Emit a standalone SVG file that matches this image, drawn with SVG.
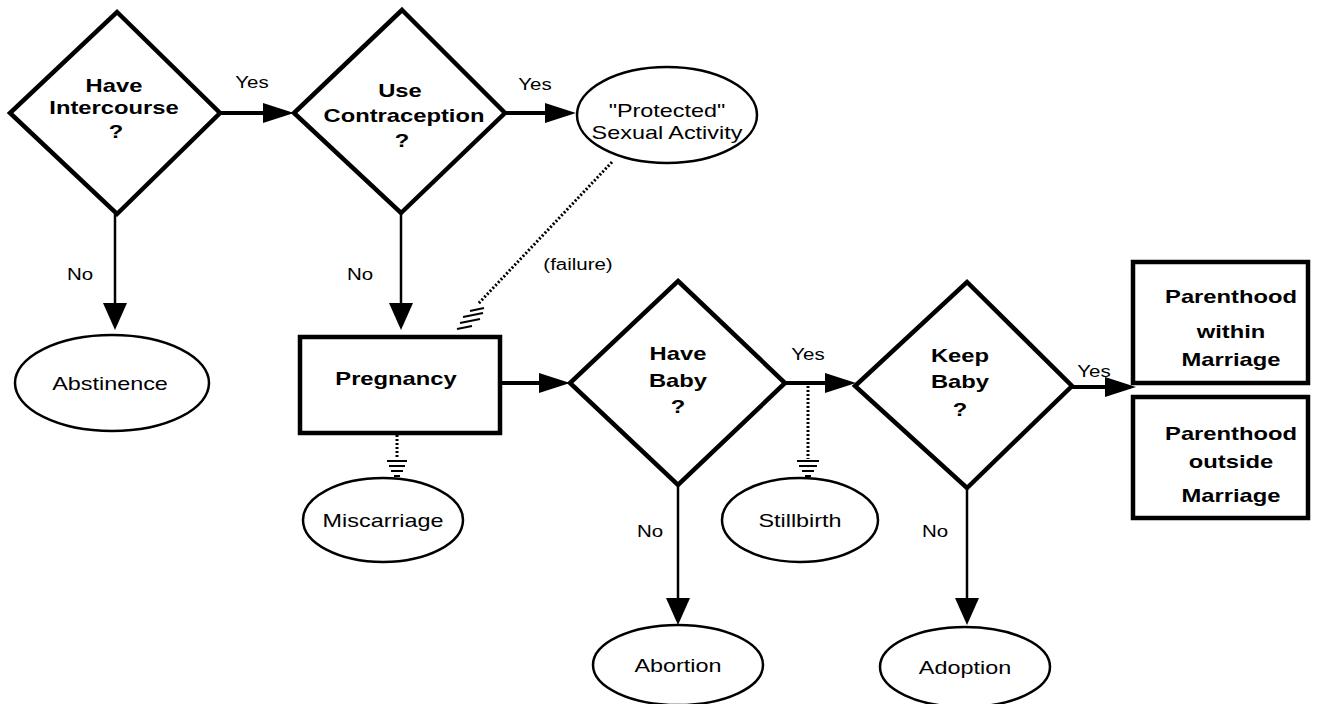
<svg xmlns="http://www.w3.org/2000/svg" width="1328" height="704" viewBox="0 0 1328 704">
<style>
.d{fill:#fff;stroke:#000;stroke-width:4.5;stroke-linejoin:miter}
.r{fill:#fff;stroke:#000;stroke-width:4.5}
.e{fill:#fff;stroke:#000;stroke-width:2.5}
.b{font-family:"Liberation Sans",Arial,sans-serif;font-weight:bold;font-size:19px;text-anchor:middle;fill:#000}
.n{font-family:"Liberation Sans",Arial,sans-serif;font-size:18px;text-anchor:middle;fill:#000}
.l{font-family:"Liberation Sans",Arial,sans-serif;font-size:16px;text-anchor:middle;fill:#000}
.c{fill:none;stroke:#000}
.th{stroke-width:4}
.tv{stroke-width:2.5}
.dot{stroke-width:3;stroke-dasharray:2 2}
.g{stroke:#000;stroke-width:2}
</style>
<defs>
<marker id="ah" markerUnits="userSpaceOnUse" markerWidth="32" markerHeight="22" refX="0" refY="11" orient="auto" overflow="visible"><path d="M0,1 L31,11 L0,21 z" fill="#000"/></marker>
<marker id="av" markerUnits="userSpaceOnUse" markerWidth="28" markerHeight="26" refX="0" refY="13" orient="auto" overflow="visible"><path d="M0,1 L27,13 L0,25 z" fill="#000"/></marker>
</defs>
<g id="connectors">
<line class="c th" x1="220" y1="113" x2="263" y2="113" marker-end="url(#ah)"/>
<line class="c tv" x1="115" y1="214" x2="115" y2="303" marker-end="url(#av)"/>
<line class="c th" x1="505" y1="113" x2="545" y2="113" marker-end="url(#ah)"/>
<line class="c tv" x1="401" y1="213" x2="401" y2="303" marker-end="url(#av)"/>
<line class="c dot" x1="612" y1="162" x2="478" y2="304"/>
<g class="g"><line x1="470" y1="311" x2="484" y2="308"/><line x1="463" y1="317" x2="483" y2="313"/><line x1="460" y1="323" x2="480" y2="319"/><line x1="457" y1="329" x2="472" y2="326"/></g>
<line class="c th" x1="500" y1="383" x2="539" y2="383" marker-end="url(#ah)"/>
<line class="c dot" x1="397" y1="435" x2="397" y2="459"/>
<g class="g"><line x1="387" y1="461" x2="407" y2="461"/><line x1="389" y1="466" x2="405" y2="466"/><line x1="391" y1="471" x2="403" y2="471"/><line x1="394" y1="476" x2="400" y2="476"/></g>
<line class="c tv" x1="678" y1="485" x2="678" y2="598" marker-end="url(#av)"/>
<line class="c th" x1="785" y1="383" x2="825" y2="383" marker-end="url(#ah)"/>
<line class="c dot" x1="808" y1="386" x2="808" y2="459"/>
<g class="g"><line x1="797" y1="461" x2="819" y2="461"/><line x1="799" y1="466" x2="817" y2="466"/><line x1="802" y1="471" x2="814" y2="471"/><line x1="805" y1="476" x2="811" y2="476"/></g>
<line class="c tv" x1="967" y1="488" x2="967" y2="598" marker-end="url(#av)"/>
<line class="c th" x1="1072" y1="387" x2="1105" y2="387" marker-end="url(#ah)"/>
<text class="l" transform="translate(252,88) scale(1.28,1)">Yes</text>
<text class="l" transform="translate(535,90) scale(1.28,1)">Yes</text>
<text class="l" transform="translate(80,280) scale(1.28,1)">No</text>
<text class="l" transform="translate(360,280) scale(1.28,1)">No</text>
<text class="l" transform="translate(578,270) scale(1.28,1)">(failure)</text>
<text class="l" transform="translate(808,360) scale(1.28,1)">Yes</text>
<text class="l" transform="translate(650,537) scale(1.28,1)">No</text>
<text class="l" transform="translate(935,537) scale(1.28,1)">No</text>
<text class="l" transform="translate(1094,377) scale(1.28,1)">Yes</text>
</g>
<g id="have-intercourse">
<polygon class="d" points="117,12 220,113 117,214 10,113"/>
<text class="b" transform="translate(114,92) scale(1.25,1)">Have</text>
<text class="b" transform="translate(114,114) scale(1.25,1)">Intercourse</text>
<text class="b" transform="translate(116,138) scale(1.25,1)">?</text>
</g>
<g id="use-contraception">
<polygon class="d" points="402,10 505,113 401,213 294,113"/>
<text class="b" transform="translate(400,97) scale(1.25,1)">Use</text>
<text class="b" transform="translate(404,122) scale(1.25,1)">Contraception</text>
<text class="b" transform="translate(402,147) scale(1.25,1)">?</text>
</g>
<g id="protected">
<ellipse class="e" cx="667" cy="115" rx="90" ry="48"/>
<text class="n" transform="translate(667,117) scale(1.3,1)">"Protected"</text>
<text class="n" transform="translate(667,139) scale(1.3,1)">Sexual Activity</text>
</g>
<g id="abstinence">
<ellipse class="e" cx="112" cy="383" rx="97" ry="48"/>
<text class="n" transform="translate(110,390) scale(1.3,1)">Abstinence</text>
</g>
<g id="pregnancy">
<rect class="r" x="300" y="337" width="200" height="96"/>
<text class="b" transform="translate(396,385) scale(1.25,1)">Pregnancy</text>
</g>
<g id="have-baby">
<polygon class="d" points="678,281 785,383 678,485 570,383"/>
<text class="b" transform="translate(678,360) scale(1.25,1)">Have</text>
<text class="b" transform="translate(678,387) scale(1.25,1)">Baby</text>
<text class="b" transform="translate(678,413) scale(1.25,1)">?</text>
</g>
<g id="keep-baby">
<polygon class="d" points="967,282 1072,386 967,488 855,386"/>
<text class="b" transform="translate(960,362) scale(1.25,1)">Keep</text>
<text class="b" transform="translate(960,388) scale(1.25,1)">Baby</text>
<text class="b" transform="translate(960,416) scale(1.25,1)">?</text>
</g>
<g id="parenthood-within">
<rect class="r" x="1133" y="262" width="175" height="121"/>
<text class="b" transform="translate(1231,303) scale(1.25,1)">Parenthood</text>
<text class="b" transform="translate(1231,338) scale(1.25,1)">within</text>
<text class="b" transform="translate(1231,366) scale(1.25,1)">Marriage</text>
</g>
<g id="parenthood-outside">
<rect class="r" x="1133" y="397" width="175" height="121"/>
<text class="b" transform="translate(1231,440) scale(1.25,1)">Parenthood</text>
<text class="b" transform="translate(1231,468) scale(1.25,1)">outside</text>
<text class="b" transform="translate(1231,502) scale(1.25,1)">Marriage</text>
</g>
<g id="miscarriage">
<ellipse class="e" cx="383" cy="520" rx="80" ry="42"/>
<text class="n" transform="translate(383,527) scale(1.3,1)">Miscarriage</text>
</g>
<g id="stillbirth">
<ellipse class="e" cx="800" cy="520" rx="78" ry="42"/>
<text class="n" transform="translate(800,527) scale(1.3,1)">Stillbirth</text>
</g>
<g id="abortion">
<ellipse class="e" cx="678" cy="665" rx="85" ry="40"/>
<text class="n" transform="translate(678,672) scale(1.3,1)">Abortion</text>
</g>
<g id="adoption">
<ellipse class="e" cx="965" cy="667" rx="85" ry="40"/>
<text class="n" transform="translate(965,674) scale(1.3,1)">Adoption</text>
</g>
</svg>
